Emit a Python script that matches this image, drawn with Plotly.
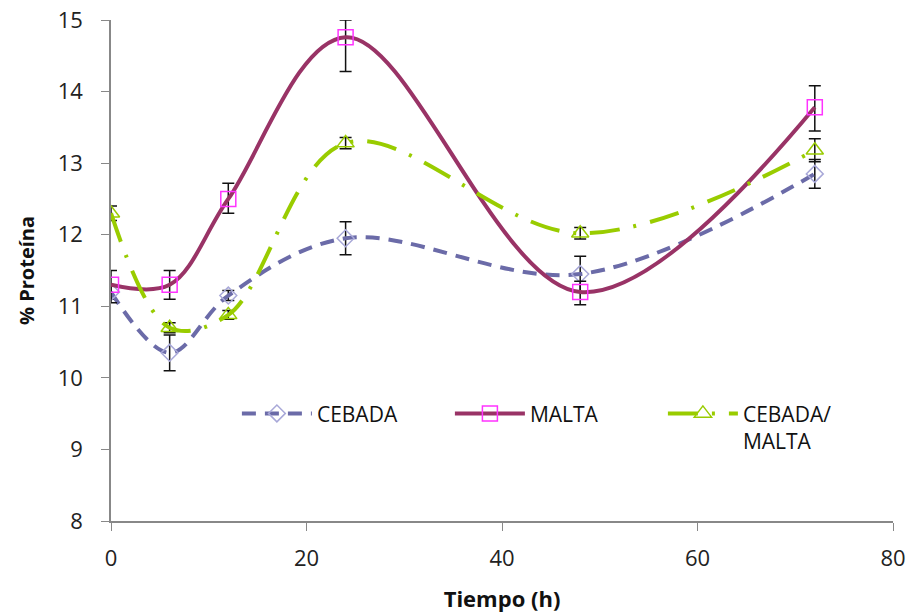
import plotly.graph_objects as go

tiempo = [0, 6, 12, 24, 48, 72]

cebada = [11.2, 10.35, 11.15, 11.95, 11.45, 12.85]
cebada_err = [0.1, 0.25, 0.07, 0.23, 0.25, 0.2]

malta = [11.3, 11.3, 12.5, 14.76, 11.2, 13.78]
malta_err_plus = [0.2, 0.2, 0.22, 0.24, 0.15, 0.3]
malta_err_minus = [0.25, 0.2, 0.2, 0.48, 0.18, 0.33]

mezcla = [12.3, 10.7, 10.88, 13.28, 12.02, 13.18]
mezcla_err = [0.1, 0.07, 0.06, 0.08, 0.08, 0.16]

names = ["CEBADA", "MALTA", "CEBADA/<br>MALTA"]

FONT = "Open Sans"

fig = go.Figure()

fig.add_trace(go.Scatter(
    x=tiempo, y=cebada, name=names[0], mode="lines+markers",
    line=dict(color="#6B6BA8", width=4, dash="14px,9px", shape="spline", smoothing=1.0),
    marker=dict(symbol="diamond-open", size=13, color="#A8A8D8", line=dict(width=1.5, color="#A8A8D8")),
    error_y=dict(type="data", array=cebada_err, visible=True, color="#111111", thickness=1.5, width=6),
))

fig.add_trace(go.Scatter(
    x=tiempo, y=malta, name=names[1], mode="lines+markers",
    line=dict(color="#993366", width=4, shape="spline", smoothing=1.0),
    marker=dict(symbol="square-open", size=15, color="#FF33FF", line=dict(width=1.5, color="#FF33FF")),
    error_y=dict(type="data", symmetric=False, array=malta_err_plus, arrayminus=malta_err_minus,
                 visible=True, color="#111111", thickness=1.5, width=6),
))

fig.add_trace(go.Scatter(
    x=tiempo, y=mezcla, name=names[2], mode="lines+markers",
    line=dict(color="#99CC00", width=4, dash="30px,14px,3px,14px", shape="spline", smoothing=1.0),
    marker=dict(symbol="triangle-up-open", size=15, color="#99CC00", line=dict(width=1.5, color="#99CC00")),
    error_y=dict(type="data", array=mezcla_err, visible=True, color="#111111", thickness=1.5, width=6),
))

fig.update_layout(
    width=910, height=616,
    margin=dict(l=111, r=17, t=20, b=95),
    paper_bgcolor="white", plot_bgcolor="white",
    font=dict(family=FONT, color="#222222"),
    showlegend=True,
    legend=dict(
        orientation="h", x=0.161, y=0.255, xanchor="left", yanchor="top",
        bgcolor="rgba(0,0,0,0)", font=dict(size=21, color="#111111", family=FONT),
        entrywidth=128, entrywidthmode="pixels", itemwidth=70, valign="top",
    ),
    xaxis=dict(
        range=[0, 80], tickvals=[0, 20, 40, 60, 80], showgrid=False, zeroline=False,
        showline=True, linecolor="#888888", linewidth=1.5, automargin=False,
        ticks="outside", ticklen=8, tickcolor="#888888",
        ticklabelstandoff=9,
        tickfont=dict(size=22, color="#222222"),
        title=dict(text="<b>Tiempo (h)</b>", font=dict(size=22, color="#111111"), standoff=20),
    ),
    yaxis=dict(
        range=[8, 15], tickvals=[8, 9, 10, 11, 12, 13, 14, 15], showgrid=False, zeroline=False,
        showline=True, linecolor="#888888", linewidth=1.5, automargin=False,
        ticks="outside", ticklen=8, tickcolor="#888888",
        ticklabelstandoff=14,
        tickfont=dict(size=22, color="#222222"),
        title=dict(text="<b>% Proteína</b>", font=dict(size=20, color="#111111"), standoff=18),
    ),
)

fig.write_html("out.html")
